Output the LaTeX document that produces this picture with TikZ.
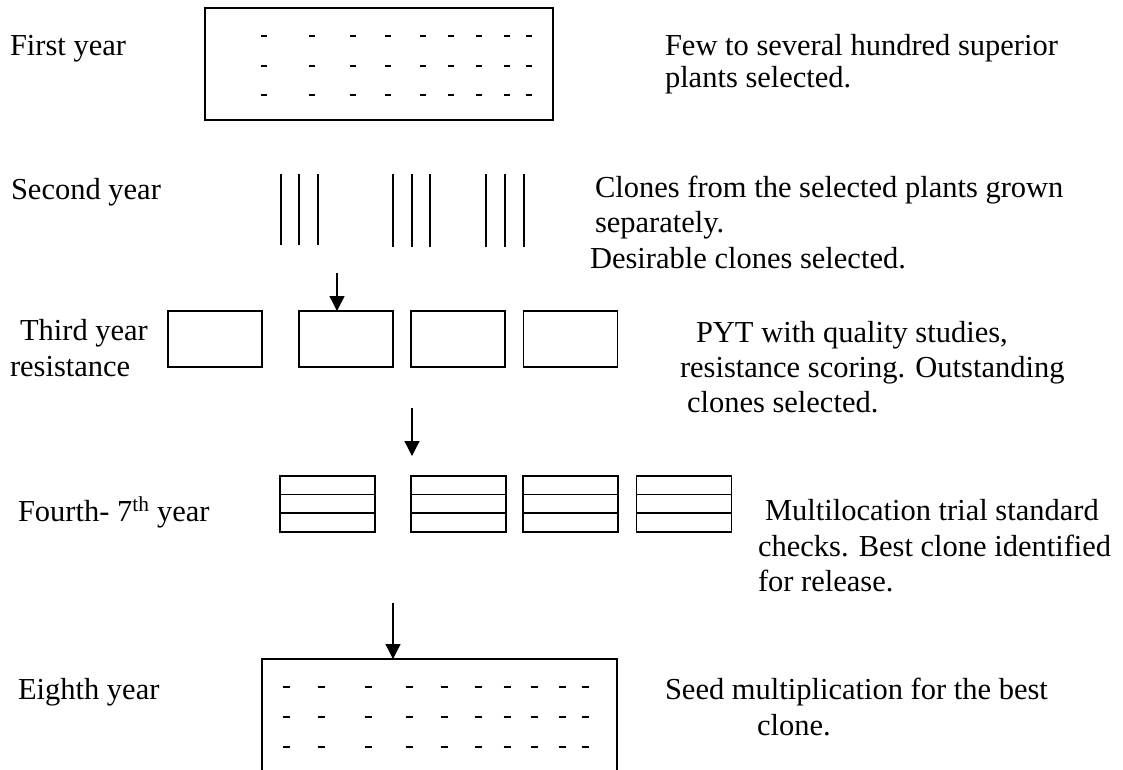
\documentclass[tikz,border=0pt]{standalone}
\usepackage{fontspec}
\setmainfont{Liberation Serif}
\usetikzlibrary{arrows.meta,calc}
\begin{document}
\begin{tikzpicture}[x=1pt,y=-1pt,
  lbl/.style={anchor=base west, inner sep=0pt, outer sep=0pt, font=\fontsize{30.5}{36}\selectfont},
  plotbox/.style={draw, line width=1.3pt, inner sep=0pt, outer sep=0pt},
  openbox/.style={inner sep=0pt, outer sep=0pt},
  dsh/.style={line width=2pt},
  rowline/.style={line width=1.3pt},
  arr/.style={line width=1.3pt, -{Triangle[width=15pt,length=15pt]}},
  ]
\useasboundingbox (0,0) rectangle (1123,769);

% ---------- First year ----------
\node[lbl] (l1) at (10,55) {First year};
\node[plotbox, minimum width=348pt, minimum height=112pt] (y1) at (379,64) {};
\foreach \x in {264,312,353,388,423,451,479,507,529}
  \foreach \y in {36,66,95}
    \draw[dsh] (\x-3,\y) -- (\x+3,\y);
\node[lbl] (r1a) at (665,55) {Few to several hundred superior};
\node[lbl] (r1b) at (665,87) {plants selected.};

% ---------- Second year ----------
\node[lbl] (l2) at (11,199) {Second year};
\foreach \x in {281,299,318}
  \draw[rowline] (\x,174) -- (\x,245);
\foreach \x in {393,412,430,486,505,524}
  \draw[rowline] (\x,174) -- (\x,247);
\node[lbl] (r2a) at (595,197) {Clones from the selected plants grown};
\node[lbl] (r2b) at (595,232) {separately.};
\node[lbl] (r2c) at (590,268) {Desirable clones selected.};

% ---------- Third year ----------
\node[lbl] (l3a) at (20,340) {Third year};
\node[lbl] (l3b) at (10,376) {resistance};
\node[plotbox, minimum width=94pt, minimum height=56pt] (t1) at (215,339) {};
\node[plotbox, minimum width=94pt, minimum height=56pt] (t2) at (346,339) {};
\node[plotbox, minimum width=94pt, minimum height=56pt] (t3) at (458,339) {};
\node[plotbox, minimum width=94pt, minimum height=56pt] (t4) at (570.5,339) {};
\coordinate (a1) at (337,273);
\draw[arr] (a1) -- (a1 |- t2.north);
\node[lbl] (r3a) at (696,342) {PYT with quality studies,};
\node[lbl] (r3b) at (680,377) {resistance scoring. Outstanding};
\node[lbl] (r3c) at (687,412) {clones selected.};

% ---------- Fourth - 7th year ----------
\coordinate (a2s) at (412,408);
\coordinate (a2e) at (412,456);
\draw[arr] (a2s) -- (a2e);
\node[lbl] (l4) at (18,521) {Fourth- 7\textsuperscript{th} year};
\foreach \n/\cx in {f1/327.5, f2/458.5, f3/570.5, f4/684}{
  \node[plotbox, minimum width=95pt, minimum height=56pt] (\n) at (\cx,504) {};
  \draw[rowline] ($(\n.north west)!0.33!(\n.south west)$) -- ($(\n.north east)!0.33!(\n.south east)$);
  \draw[rowline] ($(\n.north west)!0.66!(\n.south west)$) -- ($(\n.north east)!0.66!(\n.south east)$);
}
\node[lbl] (r4a) at (765,520) {Multilocation trial standard};
\node[lbl] (r4b) at (758,556) {checks. Best clone identified};
\node[lbl] (r4c) at (758,591) {for release.};

% ---------- Eighth year ----------
\node[lbl] (l5) at (18,699) {Eighth year};
\node[openbox, minimum width=355pt, minimum height=112pt] (bot) at (439.5,715) {};
\draw[line width=1.3pt] (bot.south west) -- (bot.north west) -- (bot.north east) -- (bot.south east);
\foreach \x in {286,321,368,409,444,478,507,534,562,585}
  \foreach \y in {687,717,747}
    \draw[dsh] (\x-3.5,\y) -- (\x+3.5,\y);
\coordinate (a3) at (393,603);
\draw[arr] (a3) -- (a3 |- bot.north);
\node[lbl] (r5a) at (665,699) {Seed multiplication for the best};
\node[lbl] (r5b) at (757,735) {clone.};
\end{tikzpicture}
\end{document}
